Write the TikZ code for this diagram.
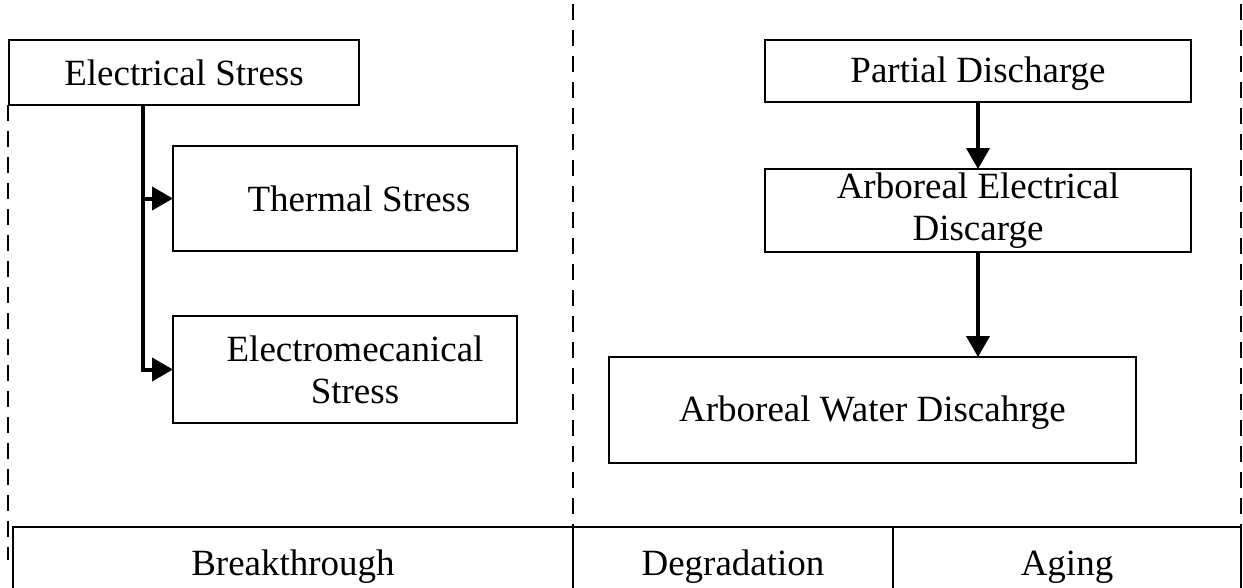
\documentclass[tikz,border=0pt]{standalone}
\usepackage{fontspec}
\setmainfont{Liberation Serif}
\usetikzlibrary{arrows.meta}
\tikzset{
  box/.style={draw, line width=2pt, rectangle, inner sep=0pt, outer sep=0pt, align=center,
    font=\fontsize{37}{42}\selectfont},
  cell/.style={box},
  flow/.style={line width=4pt, -{Triangle[length=21pt,width=23pt]}},
  divider/.style={line width=2pt, dash pattern=on 16pt off 10pt},
}
\newcommand{\lowertext}[1]{\raisebox{-3pt}[\height][\depth]{#1}}
\begin{document}
\begin{tikzpicture}[x=1pt,y=-1pt]
\useasboundingbox (0,0) rectangle (1243,587);
\clip (0,0) rectangle (1243,587);
% left column boxes
\node[box, minimum width=350pt, minimum height=65pt] (es) at (184,72.5) {Electrical Stress};
\node[box, minimum width=344pt, minimum height=105pt] (ts) at (345,198.5) {\hspace*{28pt}Thermal Stress};
\node[box, minimum width=344pt, minimum height=107pt] (em) at (345,369.5) {\hspace*{20pt}Electromecanical\\\hspace*{20pt}Stress};
% right column boxes
\node[box, minimum width=426pt, minimum height=62pt] (pd) at (978,71) {\lowertext{Partial Discharge}};
\node[box, minimum width=426pt, minimum height=83pt] (ae) at (978,210.5) {Arboreal Electrical\\Discarge};
\node[box, minimum width=527pt, minimum height=106pt] (aw) at (872.5,410) {\lowertext{Arboreal Water Discahrge}};
% bottom row
\node[cell, minimum width=560pt, minimum height=80pt] (bt) at (293,567) {Breakthrough};
\node[cell, minimum width=320pt, minimum height=80pt] (dg) at (733,567) {Degradation};
\node[cell, minimum width=348pt, minimum height=80pt] (ag) at (1067,567) {Aging};
% dashed separators
\coordinate (l1) at (8,105);
\coordinate (l2) at (8,560);
\coordinate (m1) at (573,4);
\coordinate (r1) at (1241,4);
\draw[divider] (l1) -- (l2);
\draw[divider] (m1) -- (bt.north east);
\draw[divider] (r1) -- (ag.north east);
% connectors
\coordinate (es1) at (143,105);
\draw[flow] (es1) |- (em.west);
\draw[flow] (143,198.5) -- (ts.west);
\draw[flow] (pd.south) -- (ae.north);
\draw[flow] (ae.south) -- (aw.north -| ae.south);
\end{tikzpicture}
\end{document}
